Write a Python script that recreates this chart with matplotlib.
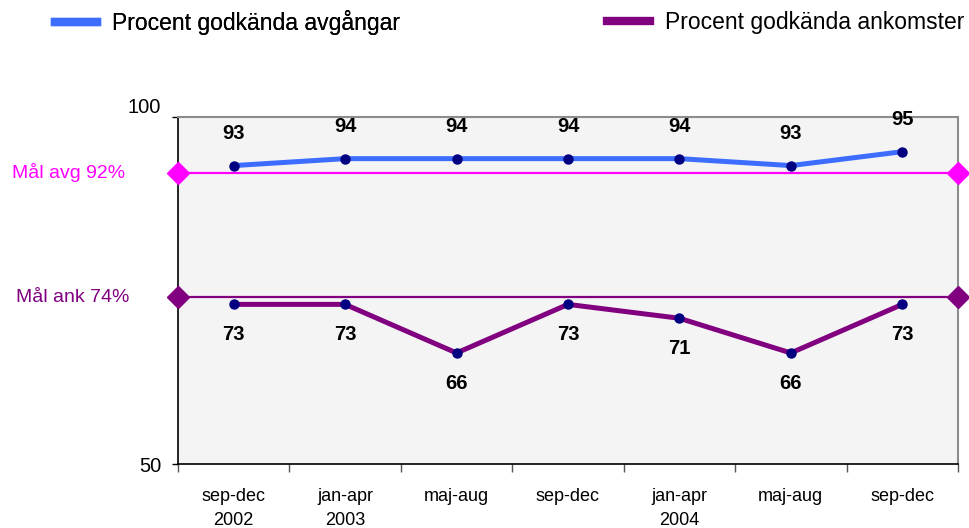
import matplotlib

matplotlib.use("Agg")
import matplotlib.pyplot as plt
from matplotlib.lines import Line2D

plt.rcParams["font.family"] = ["Liberation Sans", "DejaVu Sans"]

periods = ["sep-dec\n2002", "jan-apr\n2003", "maj-aug", "sep-dec",
           "jan-apr\n2004", "maj-aug", "sep-dec"]
avgangar = [93, 94, 94, 94, 94, 93, 95]
ankomster = [73, 73, 66, 73, 71, 66, 73]
mal_avg = 92
mal_ank = 74

BLUE = "#3D6DFF"
PURPLE = "#800080"
MAGENTA = "#FF00FF"
NAVY = "#000080"

fig = plt.figure(figsize=(9.7, 5.28), dpi=100)
ax = fig.add_axes([0.1835, 0.1212, 0.8041, 0.6572])
ax.set_facecolor("#F4F4F4")

x = list(range(len(periods)))
xmin, xmax = -0.5, len(periods) - 0.5

# target lines with diamonds at the ends
ax.plot([xmin, xmax], [mal_avg, mal_avg], color=MAGENTA, lw=1.6, marker="D",
        markersize=11, markevery=[0, 1], clip_on=False, zorder=3)
ax.plot([xmin, xmax], [mal_ank, mal_ank], color=PURPLE, lw=1.6, marker="D",
        markersize=11, markevery=[0, 1], clip_on=False, zorder=3)

ax.plot(x, avgangar, color=BLUE, lw=3.6, marker="o", markersize=6.5,
        markerfacecolor=NAVY, markeredgecolor=NAVY, zorder=4)
ax.plot(x, ankomster, color=PURPLE, lw=3.6, marker="o", markersize=6.5,
        markerfacecolor=NAVY, markeredgecolor=NAVY, zorder=4)

for xi, v in zip(x, avgangar):
    ax.annotate(str(v), (xi, v), xytext=(0, 23), textcoords="offset points",
                ha="center", va="center", fontsize=14.5, fontweight="bold")
for xi, v in zip(x, ankomster):
    ax.annotate(str(v), (xi, v), xytext=(0, -22), textcoords="offset points",
                ha="center", va="center", fontsize=14.5, fontweight="bold")

ax.set_xlim(xmin, xmax)
ax.set_ylim(50, 100)
ax.set_yticks([50, 100])
ax.set_yticklabels(["50", "100"], fontsize=14.5)
ax.tick_params(axis="y", length=4, width=1, pad=8)
ax.get_yticklabels()[1].set_va("bottom")

ax.set_xticks(x)
ax.set_xticklabels(periods, fontsize=13, linespacing=1.55)
ax.set_xticks([i - 0.5 for i in range(len(periods) + 1)], minor=True)
ax.tick_params(axis="x", which="major", length=0, pad=17)
ax.tick_params(axis="x", which="minor", length=6, width=1, color="#555555")

for side in ["left", "bottom"]:
    ax.spines[side].set_color("black")
    ax.spines[side].set_linewidth(1.2)
for side in ["top", "right"]:
    ax.spines[side].set_color("#8C8C8C")
    ax.spines[side].set_linewidth(1.5)

ax.text(-0.068, mal_avg, "Mål avg 92%", transform=ax.get_yaxis_transform(),
        ha="right", va="center", fontsize=14, color=MAGENTA)
ax.text(-0.062, mal_ank, "Mål ank 74%", transform=ax.get_yaxis_transform(),
        ha="right", va="center", fontsize=14, color=PURPLE)

h1 = [Line2D([], [], color=BLUE, lw=6)]
h2 = [Line2D([], [], color=PURPLE, lw=6)]
leg_kw = dict(loc="center left", frameon=False, fontsize=16.5,
              handlelength=1.85, handletextpad=0.65, borderpad=0,
              borderaxespad=0)
leg1 = fig.legend(h1, ["Procent godkända avgångar"],
                  bbox_to_anchor=(0.0567, 0.958), **leg_kw)
fig.add_artist(leg1)
fig.legend(h2, ["Procent godkända ankomster"],
           bbox_to_anchor=(0.626, 0.958), **leg_kw)

fig.savefig("out.png", dpi=100)
